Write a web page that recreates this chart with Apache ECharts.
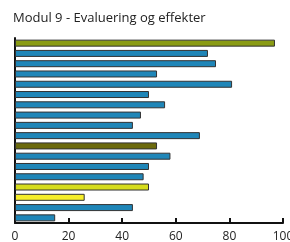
<!DOCTYPE html>
<html>
<head>
<meta charset="utf-8">
<script src="https://cdn.jsdelivr.net/npm/echarts@6/dist/echarts.min.js"></script>
<style>
  html, body { margin: 0; padding: 0; background: #fff; }
  #chart { width: 290px; height: 242px; }
</style>
</head>
<body>
<div id="chart"></div>
<script>
// one entry per bar, top to bottom
const categories = ["1", "2", "3", "4", "5", "6", "7", "8", "9", "10", "11", "12", "13", "14", "15", "16", "17", "18"];
const values = [97, 72, 75, 53, 81, 50, 56, 47, 44, 69, 53, 58, 50, 48, 50, 26, 44, 15];
const barColors = ["#8a9c14", "#1f86b8", "#1f86b8", "#1f86b8", "#1f86b8", "#1f86b8", "#1f86b8", "#1f86b8", "#1f86b8", "#1f86b8",
  "#6c6a0c", "#1f86b8", "#1f86b8", "#1f86b8", "#d6dc1c", "#f6ee2a", "#1f86b8", "#1f86b8"];
const xTicks = [0, 20, 40, 60, 80, 100];

const chart = echarts.init(document.getElementById("chart"));
chart.setOption({
  animation: false,
  title: {
    text: "Modul 9 - Evaluering og effekter",
    left: 8,
    top: 7,
    textStyle: { fontFamily: "Open Sans", fontSize: 13, fontWeight: "normal", color: "#222" }
  },
  grid: { left: 15, right: 7, top: 38, bottom: 19, outerBoundsMode: "none" },
  xAxis: {
    type: "value",
    min: xTicks[0],
    max: xTicks[xTicks.length - 1],
    interval: 20,
    axisLine: { show: true, lineStyle: { color: "#111", width: 2 } },
    axisTick: { show: true, inside: true, length: 5, lineStyle: { color: "#111", width: 2 } },
    axisLabel: { color: "#222", fontFamily: "Open Sans", fontSize: 12, margin: 8 },
    splitLine: { show: false }
  },
  yAxis: {
    type: "category",
    data: categories,
    inverse: true,
    axisLine: { show: true, lineStyle: { color: "#111", width: 2 } },
    axisTick: { show: false },
    axisLabel: { show: false }
  },
  series: [{
    type: "bar",
    barWidth: 7,
    data: values.map((v, i) => ({
      value: v,
      itemStyle: { color: barColors[i], borderColor: "#333", borderWidth: 1 }
    }))
  }]
});
</script>
</body>
</html>
